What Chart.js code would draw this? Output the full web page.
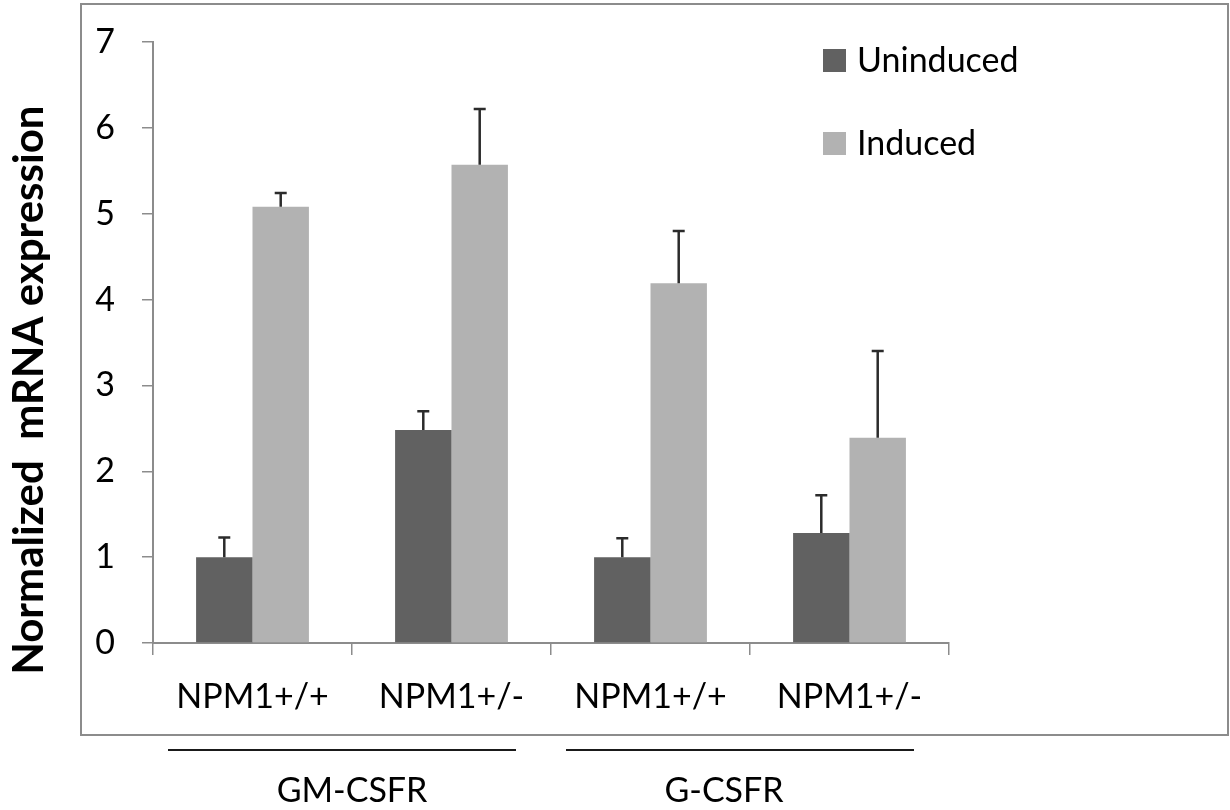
<!DOCTYPE html>
<html lang="en">
<head>
<meta charset="UTF-8" />
<title>Normalized mRNA expression</title>
<script src="https://cdn.jsdelivr.net/npm/chart.js"></script>
<style>
  html, body { margin: 0; padding: 0; background: #ffffff; }
  #wrap { width: 1230px; height: 810px; }
</style>
</head>
<body>
<div id="wrap"><canvas id="chart" width="1230" height="810"></canvas></div>
<script>
// values
const categories = ["NPM1+/+", "NPM1+/-", "NPM1+/+", "NPM1+/-"];
const groups = ["GM-CSFR", "G-CSFR"];
const groupSpans = [[0, 1], [2, 3]];
const uninduced = [1.00, 2.48, 1.00, 1.28];
const uninducedErr = [0.23, 0.22, 0.22, 0.44];
const induced = [5.08, 5.57, 4.19, 2.39];
const inducedErr = [0.16, 0.65, 0.61, 1.01];
const yTitle = "Normalized  mRNA expression";

const FONT = "Lato";
const AXIS = "#8c8c8c";

// frame around the plot, like the exported figure
const frame = {
  id: "frame",
  beforeDraw(chart) {
    const ctx = chart.ctx;
    ctx.save();
    ctx.fillStyle = "#fff";
    ctx.fillRect(0, 0, chart.width, chart.height);
    ctx.strokeStyle = AXIS;
    ctx.lineWidth = 2;
    ctx.strokeRect(81, 4, 1147, 731);
    ctx.restore();
  }
};

// upward error bars
const errorBars = {
  id: "errorBars",
  afterDatasetsDraw(chart) {
    const ctx = chart.ctx, y = chart.scales.y;
    chart.data.datasets.forEach((ds, i) => {
      chart.getDatasetMeta(i).data.forEach((bar, j) => {
        const top = y.getPixelForValue(ds.data[j] + ds.errors[j]);
        ctx.save();
        ctx.strokeStyle = "#2b2b2b";
        ctx.lineWidth = 2.5;
        ctx.beginPath();
        ctx.moveTo(bar.x, bar.y);
        ctx.lineTo(bar.x, top);
        ctx.moveTo(bar.x - 6, top);
        ctx.lineTo(bar.x + 6, top);
        ctx.stroke();
        ctx.restore();
      });
    });
  }
};

// legend in the top right, y title, group labels under the frame
const extras = {
  id: "extras",
  afterDraw(chart) {
    const ctx = chart.ctx, x = chart.scales.x;
    ctx.save();
    ctx.fillStyle = "#000";

    chart.data.datasets.forEach((ds, i) => {
      const top = 49 + i * 83;
      ctx.fillStyle = ds.backgroundColor;
      ctx.fillRect(823, top, 23, 23);
      ctx.fillStyle = "#000";
      ctx.font = "34px " + FONT;
      ctx.textAlign = "left";
      ctx.textBaseline = "middle";
      ctx.fillText(ds.label, 857, top + 12);
    });

    ctx.save();
    ctx.translate(43, 390);
    ctx.rotate(-Math.PI / 2);
    ctx.font = "bold 42px " + FONT;
    ctx.textAlign = "center";
    ctx.textBaseline = "alphabetic";
    ctx.fillText(yTitle, 0, 0);
    ctx.restore();

    const half = (x.getPixelForValue(1) - x.getPixelForValue(0)) / 2;
    const labelShift = [0, -26];
    groups.forEach((g, k) => {
      const l = x.getPixelForValue(groupSpans[k][0]) - half;
      const r = x.getPixelForValue(groupSpans[k][1]) + half;
      ctx.strokeStyle = "#1a1a1a";
      ctx.lineWidth = 2;
      ctx.beginPath();
      ctx.moveTo(l + 15, 750);
      ctx.lineTo(r - 35, 750);
      ctx.stroke();
      ctx.font = "34px " + FONT;
      ctx.textAlign = "center";
      ctx.textBaseline = "middle";
      ctx.fillText(g, (l + r) / 2 + labelShift[k], 791);
    });
    ctx.restore();
  }
};

new Chart(document.getElementById("chart"), {
  type: "bar",
  data: {
    labels: categories,
    datasets: [
      { label: "Uninduced", data: uninduced, errors: uninducedErr, backgroundColor: "#616161" },
      { label: "Induced", data: induced, errors: inducedErr, backgroundColor: "#b2b2b2" }
    ]
  },
  options: {
    responsive: false,
    animation: false,
    layout: { padding: { left: 0, right: 281, top: 42, bottom: 0 } },
    datasets: { bar: { categoryPercentage: 0.567, barPercentage: 1.0 } },
    plugins: { legend: { display: false }, tooltip: { enabled: false } },
    scales: {
      x: {
        afterFit: (s) => { s.height = 167; },
        grid: { drawOnChartArea: false, drawTicks: true, tickLength: 12, color: AXIS, lineWidth: 1.5, offset: true },
        border: { color: AXIS, width: 2 },
        ticks: { color: "#000", padding: 22, font: { family: FONT, size: 34 } }
      },
      y: {
        min: 0,
        max: 7,
        afterFit: (s) => { s.width = 153; s.paddingTop = 0; s.paddingBottom = 0; },
        grid: { drawOnChartArea: false, drawTicks: true, tickLength: 11, color: AXIS, lineWidth: 1.5 },
        border: { color: AXIS, width: 2 },
        ticks: { stepSize: 1, color: "#000", padding: 27, font: { family: FONT, size: 34 } }
      }
    }
  },
  plugins: [frame, errorBars, extras]
});
</script>
</body>
</html>
